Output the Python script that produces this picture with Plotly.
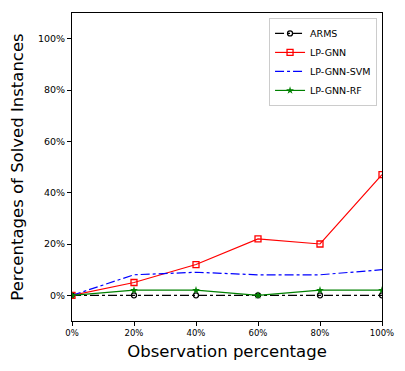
import plotly.graph_objects as go

obs = [0, 0.2, 0.4, 0.6, 0.8, 1.0]
arms = [0, 0, 0, 0, 0, 0]
lp_gnn = [0, 0.05, 0.12, 0.22, 0.20, 0.47]
lp_gnn_svm = [0, 0.08, 0.09, 0.08, 0.08, 0.10]
lp_gnn_rf = [0, 0.02, 0.02, 0, 0.02, 0.02]
tick_vals = [0, 0.2, 0.4, 0.6, 0.8, 1.0]
tick_text = ["0%", "20%", "40%", "60%", "80%", "100%"]

fig = go.Figure()
fig.add_trace(go.Scatter(x=obs, y=arms, name="ARMS", mode="lines+markers",
                         line=dict(color="black", width=1.2, dash="dashdot"),
                         marker=dict(symbol="circle-open", size=5, color="black", line=dict(width=1.3))))
fig.add_trace(go.Scatter(x=obs, y=lp_gnn, name="LP-GNN", mode="lines+markers",
                         line=dict(color="red", width=1.2),
                         marker=dict(symbol="square-open", size=6, color="red", line=dict(width=1.3))))
fig.add_trace(go.Scatter(x=obs, y=lp_gnn_svm, name="LP-GNN-SVM", mode="lines",
                         line=dict(color="blue", width=1.2, dash="dashdot")))
fig.add_trace(go.Scatter(x=obs, y=lp_gnn_rf, name="LP-GNN-RF", mode="lines+markers",
                         line=dict(color="green", width=1.2),
                         marker=dict(symbol="star", size=6, color="green")))

axis_common = dict(showline=True, linecolor="black", linewidth=1, mirror=True,
                   ticks="outside", ticklen=4, tickwidth=0.8, tickcolor="black",
                   showgrid=False, zeroline=False)

fig.update_layout(
    width=397, height=363,
    margin=dict(l=64, r=23, t=5, b=50),
    paper_bgcolor="white", plot_bgcolor="white",
    font=dict(family="DejaVu Sans", color="black"),
    xaxis=dict(range=[0, 1], tickvals=tick_vals, ticktext=tick_text,
               tickfont=dict(family="DejaVu Sans", size=8.5, color="black"),
               title=dict(text="Observation percentage", font=dict(size=16.5), standoff=8),
               **axis_common),
    yaxis=dict(range=[-0.1, 1.1], tickvals=tick_vals, ticktext=tick_text,
               tickfont=dict(family="DejaVu Sans", size=9.5, color="black"),
               title=dict(text="Percentages of Solved Instances", font=dict(size=16.5), standoff=10),
               **axis_common),
    legend=dict(x=0.984, y=0.984, xanchor="right", yanchor="top",
                bordercolor="#cccccc", borderwidth=1, bgcolor="rgba(255,255,255,0.8)",
                font=dict(size=9.5), tracegroupgap=0, itemwidth=30),
    showlegend=True,
)

fig.write_html("out.html")
